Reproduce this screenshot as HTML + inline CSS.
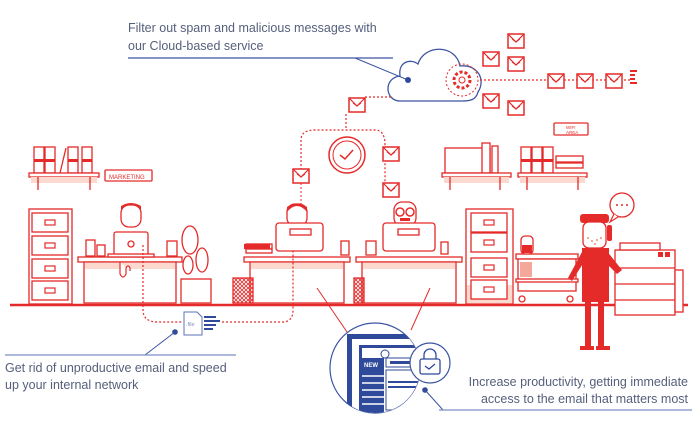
<!DOCTYPE html>
<html><head><meta charset="utf-8"><style>
html,body{margin:0;padding:0;background:#fff;width:695px;height:426px;overflow:hidden}
svg{display:block}
text{font-family:"Liberation Sans",sans-serif;fill:#56607c}
</style></head><body>
<svg width="695" height="426" viewBox="0 0 695 426" xmlns="http://www.w3.org/2000/svg">
<defs>
<g id="env"><rect x="-8" y="-6" width="16" height="14" fill="#fff" stroke="#e52a2a" stroke-width="1.5"/><path d="M-8 -6 L0 2 L8 -6" fill="none" stroke="#e52a2a" stroke-width="1.2"/><path d="M-4 -1 l4 3 l4 -3" fill="none" stroke="#e52a2a" stroke-width="1"/></g>
<g id="drawer"><rect x="0" y="0" width="36" height="19" fill="#fff" stroke="#e52a2a" stroke-width="1.3"/><rect x="13" y="7" width="10" height="5" fill="none" stroke="#e52a2a" stroke-width="1.2"/></g>
<clipPath id="cc"><circle cx="375" cy="368" r="45"/></clipPath>
<pattern id="hatch" width="4" height="4" patternUnits="userSpaceOnUse"><path d="M0 0 L4 4 M4 0 L0 4" stroke="#e52a2a" stroke-width="0.8"/></pattern>
</defs>
<!-- top text -->
<text x="128" y="32" font-size="12.5">Filter out spam and malicious messages with</text>
<text x="128" y="50" font-size="12.5">our Cloud-based service</text>
<line x1="128" y1="58" x2="393" y2="58" stroke="#3c55a0" stroke-width="1.2"/>
<line x1="355" y1="58" x2="408" y2="80" stroke="#3c55a0" stroke-width="1"/>
<circle cx="408" cy="80" r="3" fill="#2f4a9a"/>
<!-- cloud -->
<path d="M400 101 C385 101 383 78 400 76 C398 62 410 58 418 64 C424 44 456 44 460 66 C478 64 486 80 478 92 C476 100 470 101 462 101 Z" fill="none" stroke="#3c55a0" stroke-width="1.3"/>
<circle cx="462" cy="80" r="16" fill="none" stroke="#e52a2a" stroke-width="1" stroke-dasharray="2 2"/>
<circle cx="462" cy="80" r="8" fill="none" stroke="#e52a2a" stroke-width="3" stroke-dasharray="3 2"/>
<circle cx="462" cy="80" r="3" fill="none" stroke="#e52a2a" stroke-width="1"/>
<line x1="480" y1="80" x2="630" y2="80" stroke="#e52a2a" stroke-width="1.2" stroke-dasharray="2 2"/>
<use href="#env" x="556" y="80"/><use href="#env" x="585" y="80"/><use href="#env" x="614" y="80"/>
<g fill="#e52a2a"><rect x="630" y="70" width="7" height="2"/><rect x="630" y="74" width="5" height="2"/><rect x="630" y="78" width="5" height="2"/><rect x="630" y="82" width="7" height="2"/></g>
<use href="#env" x="516" y="40"/><use href="#env" x="491" y="58"/><use href="#env" x="516" y="63"/><use href="#env" x="491" y="100"/><use href="#env" x="516" y="107"/>
<!-- dotted paths -->
<path d="M365 97 H392" stroke="#e52a2a" stroke-width="1.2" stroke-dasharray="2 2" fill="none"/>
<use href="#env" x="357" y="104"/>
<path d="M346 114 V130 M301 170 V140 Q301 130 315 130 H375 Q385 130 385 145 V195" stroke="#e52a2a" stroke-width="1.2" stroke-dasharray="2 2" fill="none"/>
<circle cx="347" cy="155" r="18" fill="#fff" stroke="#e52a2a" stroke-width="1.5"/>
<circle cx="347" cy="155" r="14" fill="none" stroke="#e52a2a" stroke-width="1"/>
<path d="M340 155 l5 4 l8 -9" stroke="#e52a2a" stroke-width="1.5" fill="none"/>
<use href="#env" x="301" y="175"/><use href="#env" x="391" y="153"/><use href="#env" x="391" y="189"/>
<line x1="301" y1="183" x2="301" y2="210" stroke="#e52a2a" stroke-dasharray="2 2"/>
<!-- shelves -->
<g stroke="#e52a2a" stroke-width="1.3" fill="#fff">
<rect x="34" y="147" width="10" height="26"/><rect x="45" y="147" width="10" height="26"/><rect x="68" y="147" width="10" height="26"/><rect x="82" y="147" width="10" height="26"/>
<line x1="60" y1="173" x2="66" y2="148"/>
<rect x="29" y="173" width="70" height="4"/>
<rect x="445" y="148" width="45" height="25"/><rect x="482" y="143" width="8" height="30"/><rect x="492" y="146" width="6" height="27"/>
<rect x="442" y="173" width="69" height="4"/>
<rect x="521" y="147" width="10" height="26"/><rect x="532" y="147" width="10" height="26"/><rect x="543" y="147" width="10" height="26"/><rect x="556" y="156" width="27" height="6"/><rect x="556" y="163" width="27" height="5"/>
<rect x="518" y="173" width="69" height="4"/>
<rect x="105" y="170" width="47" height="11" rx="1"/>
<rect x="554" y="123" width="34" height="12" rx="1"/>
</g>
<g fill="#fbd9cf"><rect x="31" y="177" width="66" height="6"/><rect x="444" y="177" width="65" height="6"/><rect x="520" y="177" width="65" height="6"/></g>
<g stroke="#e52a2a" stroke-width="1.3"><line x1="38" y1="177" x2="38" y2="190"/><line x1="90" y1="177" x2="90" y2="190"/><line x1="450" y1="177" x2="450" y2="190"/><line x1="500" y1="177" x2="500" y2="190"/><line x1="527" y1="177" x2="527" y2="190"/><line x1="578" y1="177" x2="578" y2="190"/></g>
<g fill="#e52a2a"><rect x="34" y="159" width="10" height="3"/><rect x="45" y="159" width="10" height="3"/><rect x="68" y="159" width="10" height="3"/><rect x="82" y="159" width="10" height="3"/><rect x="521" y="159" width="10" height="3"/><rect x="532" y="159" width="10" height="3"/><rect x="543" y="159" width="10" height="3"/></g>
<text x="109" y="179" font-size="6" style="fill:#e52a2a">MARKETING</text>
<text x="566" y="129" font-size="4.5" style="fill:#e52a2a">WIFI</text><text x="566" y="134" font-size="4.5" style="fill:#e52a2a">AREA</text>
<!-- floor -->
<line x1="10" y1="305" x2="688" y2="305" stroke="#e52a2a" stroke-width="2.5"/>
<!-- cabinets -->
<rect x="29" y="209" width="43" height="95" fill="#fff" stroke="#e52a2a" stroke-width="1.3"/>
<use href="#drawer" x="32" y="213"/><use href="#drawer" x="32" y="236"/><use href="#drawer" x="32" y="259"/><use href="#drawer" x="32" y="281"/>
<rect x="466" y="209" width="47" height="95" fill="#fff" stroke="#e52a2a" stroke-width="1.3"/>
<use href="#drawer" x="471" y="213"/><use href="#drawer" x="471" y="233"/><rect x="467" y="285" width="45" height="18" fill="#fbd9cf"/>
<use href="#drawer" x="471" y="258"/><use href="#drawer" x="471" y="280"/>
<!-- desks -->
<g stroke="#e52a2a" stroke-width="1.3" fill="#fff">
<rect x="78" y="257" width="104" height="5"/><rect x="84" y="262" width="92" height="41"/>
<rect x="244" y="257" width="106" height="5"/><rect x="250" y="262" width="94" height="41"/>
<rect x="356" y="257" width="106" height="5"/><rect x="362" y="262" width="94" height="41"/>
</g>
<g fill="#fbd9cf"><rect x="85" y="263" width="90" height="6"/><rect x="251" y="263" width="92" height="6"/><rect x="363" y="263" width="92" height="6"/></g>
<path d="M120 262 v12 q3 6 6 0 v-6 q2 -4 4 0 v3" fill="#fff" stroke="#e52a2a" stroke-width="1.2"/>
<!-- woman -->
<g stroke="#e52a2a" stroke-width="1.3" fill="#fff">
<rect x="121" y="205" width="20" height="22" rx="8"/>
<rect x="114" y="232" width="34" height="23" rx="2"/>
<rect x="108" y="254" width="46" height="3"/>
<rect x="86" y="240" width="9" height="16"/><rect x="97" y="245" width="8" height="11"/><rect x="167" y="241" width="10" height="15"/>
</g>
<path d="M121 210 q10 -10 20 0 v-4 q-10 -6 -20 0z" fill="#e52a2a"/>
<circle cx="131" cy="244" r="3" fill="none" stroke="#e52a2a" stroke-width="1.3"/>
<!-- plant -->
<g stroke="#e52a2a" stroke-width="1.3" fill="#fff">
<rect x="181" y="279" width="30" height="24"/>
<ellipse cx="190" cy="240" rx="8" ry="14"/><ellipse cx="202" cy="260" rx="6" ry="12"/><ellipse cx="188" cy="265" rx="5" ry="9"/>
</g>
<!-- person 2 -->
<g stroke="#e52a2a" stroke-width="1.3" fill="#fff">
<rect x="287" y="204" width="20" height="22" rx="8"/>
<rect x="276" y="223" width="47" height="28" rx="3"/>
<rect x="290" y="229" width="21" height="6"/>
<rect x="246" y="244" width="26" height="5"/><rect x="246" y="249" width="26" height="4"/>
<rect x="341" y="241" width="8" height="14"/>
<rect x="233" y="278" width="20" height="25" fill="url(#hatch)"/>
</g>
<path d="M287 212 q10 -12 20 0 v-5 q-10 -7 -20 0z" fill="#e52a2a"/>
<rect x="244" y="244" width="26" height="5" fill="#e52a2a"/>
<!-- person 3 -->
<g stroke="#e52a2a" stroke-width="1.3" fill="#fff">
<rect x="394" y="202" width="22" height="24" rx="8"/>
<rect x="383" y="223" width="52" height="28" rx="3"/>
<rect x="398" y="229" width="21" height="6"/>
<rect x="366" y="241" width="10" height="14"/>
<rect x="441" y="242" width="7" height="12"/>
<rect x="354" y="278" width="10" height="25" fill="url(#hatch)"/>
</g>
<circle cx="400" cy="212" r="4" fill="none" stroke="#e52a2a" stroke-width="1.5"/><circle cx="410" cy="212" r="4" fill="none" stroke="#e52a2a" stroke-width="1.5"/>
<rect x="400" y="218" width="10" height="3" fill="#e52a2a"/>
<!-- cart -->
<g stroke="#e52a2a" stroke-width="1.3" fill="#fff">
<rect x="516" y="254" width="62" height="5"/><rect x="518" y="259" width="58" height="32"/><rect x="516" y="279" width="62" height="3"/>
<rect x="521" y="236" width="12" height="18" rx="4"/>
<circle cx="522" cy="299" r="3"/><circle cx="570" cy="299" r="3"/>
</g>
<rect x="522" y="245" width="10" height="8" fill="#e52a2a"/>
<rect x="520" y="262" width="12" height="15" fill="#f4a89a"/>
<!-- copier -->
<g stroke="#e52a2a" stroke-width="1.3" fill="#fff">
<rect x="615" y="250" width="60" height="65"/><rect x="620" y="243" width="40" height="7"/>
<line x1="615" y1="268" x2="675" y2="268"/><line x1="615" y1="284" x2="675" y2="284"/><line x1="615" y1="300" x2="675" y2="300"/>
<rect x="675" y="270" width="8" height="42"/>
</g>
<rect x="658" y="252" width="5" height="5" fill="#e52a2a"/><rect x="665" y="252" width="5" height="5" fill="#e52a2a"/>
<!-- man -->
<g fill="#e52a2a">
<rect x="582" y="248" width="27" height="54"/>
<path d="M582 252 L568 278 L572 281 L584 262Z"/><path d="M606 250 L622 270 L617 274 L605 262Z"/>
<rect x="585" y="300" width="6" height="48"/><rect x="598" y="300" width="6" height="48"/>
<rect x="580" y="346" width="14" height="4"/><rect x="596" y="346" width="14" height="4"/>
<rect x="580" y="214" width="29" height="9" rx="3"/>
<rect x="607" y="225" width="5" height="16" rx="2"/>
</g>
<rect x="583" y="222" width="23" height="26" rx="6" fill="#fff" stroke="#e52a2a" stroke-width="1.3"/>
<g fill="#f48a7a"><circle cx="588" cy="238" r="1"/><circle cx="592" cy="241" r="1"/><circle cx="597" cy="240" r="1"/><circle cx="601" cy="238" r="1"/><circle cx="595" cy="244" r="1"/></g>
<circle cx="622" cy="205" r="12" fill="#fff" stroke="#e52a2a" stroke-width="1.3"/>
<path d="M614 214 l-4 8 l8 -5" fill="#fff" stroke="#e52a2a" stroke-width="1.2"/>
<g fill="#e52a2a"><circle cx="617" cy="205" r="1"/><circle cx="622" cy="205" r="1"/><circle cx="627" cy="205" r="1"/></g>
<!-- bottom file path -->
<path d="M143 245 V310 Q143 322 158 322 H183 M222 322 H282 Q293 322 293 310 V250" stroke="#e52a2a" stroke-width="1.2" stroke-dasharray="2 2" fill="none"/>
<path d="M184 312 h13 l5 5 v18 h-18z" fill="#fff" stroke="#5d72b5" stroke-width="1"/>
<text x="186" y="326" font-size="5.5" style="fill:#7d8fc7">.file</text>
<g fill="#2f4a9a"><rect x="204" y="316" width="12" height="2"/><rect x="204" y="320" width="16" height="2"/><rect x="204" y="324" width="12" height="2"/><rect x="204" y="328" width="9" height="2"/></g>
<circle cx="175" cy="332" r="2.8" fill="#2f4a9a"/>
<line x1="175" y1="332" x2="145" y2="355" stroke="#3c55a0"/>
<line x1="5" y1="355" x2="236" y2="355" stroke="#7d8fc7" stroke-width="1.2"/>
<text x="5" y="372" font-size="12.5">Get rid of unproductive email and speed</text>
<text x="5" y="389" font-size="12.5">up your internal network</text>
<!-- zoom lines -->
<line x1="317" y1="288" x2="347" y2="332" stroke="#e52a2a"/>
<line x1="430" y1="288" x2="411" y2="330" stroke="#e52a2a"/>
<circle cx="375" cy="368" r="45" fill="#fff" stroke="#3c55a0" stroke-width="1.2"/>
<g clip-path="url(#cc)">
<rect x="347" y="334" width="80" height="100" fill="#2f4a9a"/>
<rect x="352" y="339" width="75" height="95" fill="#fff"/>
<rect x="359" y="345" width="68" height="90" fill="#2f4a9a"/>
<rect x="362" y="348" width="65" height="87" fill="#fff"/>
<rect x="362" y="358" width="22" height="80" fill="#2f4a9a"/>
<g stroke="#fff" stroke-width="1.5"><line x1="362" y1="376" x2="384" y2="376"/><line x1="362" y1="383" x2="384" y2="383"/><line x1="362" y1="390" x2="384" y2="390"/><line x1="362" y1="397" x2="384" y2="397"/><line x1="362" y1="404" x2="384" y2="404"/></g>
<text x="364" y="367" font-size="6" font-weight="bold" style="fill:#fff">NEW</text>
<rect x="386" y="358" width="40" height="9" fill="none" stroke="#2f4a9a"/>
<rect x="390" y="361" width="30" height="3" fill="#2f4a9a"/>
<rect x="386" y="370" width="40" height="40" fill="none" stroke="#2f4a9a"/>
<rect x="388" y="381" width="35" height="2" fill="#2f4a9a"/><rect x="388" y="386" width="35" height="2" fill="#2f4a9a"/>
</g>
<circle cx="385" cy="354" r="4" fill="#fff" stroke="#2f4a9a"/>
<circle cx="430" cy="363" r="20" fill="#fff" stroke="#3c55a0" stroke-width="1.2"/>
<rect x="420" y="359" width="20" height="15" rx="2" fill="none" stroke="#2f4a9a" stroke-width="1.3"/>
<path d="M424 359 v-4 a6 6 0 0 1 12 0 v4" fill="none" stroke="#2f4a9a" stroke-width="1.3"/>
<path d="M425 366 l4 3 l6 -5" fill="none" stroke="#2f4a9a" stroke-width="1.3"/>
<circle cx="425" cy="390" r="2.8" fill="#2f4a9a"/>
<line x1="425" y1="390" x2="443" y2="410" stroke="#3c55a0"/>
<line x1="439" y1="410" x2="692" y2="410" stroke="#7d8fc7" stroke-width="1.2"/>
<text x="688" y="386" font-size="12.5" text-anchor="end">Increase productivity, getting immediate</text>
<text x="688" y="403" font-size="12.5" text-anchor="end">access to the email that matters most</text>
</svg>
</body></html>
